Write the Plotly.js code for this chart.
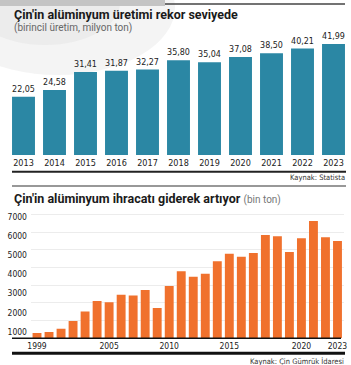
<!DOCTYPE html>
<html>
<head>
<meta charset="utf-8">
<script src="https://cdn.plot.ly/plotly-3.0.1.min.js"></script>
<style>html,body{margin:0;padding:0;background:#fff;}#chart{width:351px;height:365px;}</style>
</head>
<body>
<div id="chart"></div>
<script>
// ---- Data ----
const productionYears = ['2013','2014','2015','2016','2017','2018','2019','2020','2021','2022','2023'];
const productionValues = [22.05, 24.58, 31.41, 31.87, 32.27, 35.80, 35.04, 37.08, 38.50, 40.21, 41.99];

const exportYears = [1999,2000,2001,2002,2003,2004,2005,2006,2007,2008,2009,2010,2011,2012,2013,2014,2015,2016,2017,2018,2019,2020,2021,2022,2023,2024];
const exportValues = [300,360,540,980,1520,2110,2030,2460,2410,2730,1710,2950,3780,3480,3650,4350,4780,4610,4820,5830,5760,4870,5650,6620,5700,5490];
const exportTickVals = [1999,2005,2010,2015,2021,2024];
const exportTickText = ['1999','2005','2010','2015','2020','2023'];
const exportYTicks = [1000,2000,3000,4000,5000,6000,7000];

const title1 = "Çin'in alüminyum üretimi rekor seviyede";
const subtitle1 = "(birincil üretim, milyon ton)";
const title2 = "Çin'in alüminyum ihracatı giderek artıyor";
const subtitle2 = "(bin ton)";
const source1 = "Kaynak: Statista";
const source2 = "Kaynak: Çin Gümrük İdaresi";

// ---- Helpers (pixel -> paper) ----
const W = 351, H = 365;
const px = x => x / W;
const py = y => 1 - y / H;

const COND = '"Liberation Sans Narrow", "DejaVu Sans Condensed", "Roboto Condensed", sans-serif';
const SANS = 'Roboto, "Open Sans", "Liberation Sans", sans-serif';

const traces = [
  {
    type: 'bar', x: productionYears, y: productionValues,
    xaxis: 'x', yaxis: 'y',
    marker: {color: '#2b87a4'},
    texttemplate: '%{y:.2f}', textposition: 'outside',
    textfont: {family: COND, size: 9.5, color: '#222'},
    cliponaxis: false, hoverinfo: 'skip'
  },
  {
    type: 'bar', x: exportYears, y: exportValues,
    xaxis: 'x2', yaxis: 'y2',
    marker: {color: '#f0712d'},
    hoverinfo: 'skip'
  },
  {
    type: 'scatter', mode: 'markers', x: exportYears, y: exportValues,
    xaxis: 'x2', yaxis: 'y3',
    marker: {opacity: 0, size: 1},
    hoverinfo: 'skip', showlegend: false
  }
];

const layout = {
  width: W, height: H,
  margin: {l: 0, r: 0, t: 0, b: 0},
  paper_bgcolor: '#fff', plot_bgcolor: 'rgba(0,0,0,0)',
  showlegend: false,
  separators: ',.',
  bargap: 0.26,
  xaxis: {
    domain: [px(8), px(349)], anchor: 'y', type: 'category',
    showgrid: false, zeroline: false, showline: false, ticks: '',
    tickfont: {family: COND, size: 9, color: '#222'},
    ticklabelstandoff: 1, fixedrange: true
  },
  yaxis: {
    domain: [py(155), py(28)], anchor: 'x', range: [0, 48],
    visible: false, fixedrange: true
  },
  xaxis2: {
    domain: [px(31), px(343.5)], anchor: 'y2',
    range: [1998.5, 2024.5],
    tickvals: exportTickVals, ticktext: exportTickText,
    showgrid: false, zeroline: false, showline: false, ticks: '',
    tickfont: {family: COND, size: 8.5, color: '#222'},
    ticklabelstandoff: 1, fixedrange: true
  },
  yaxis2: {
    domain: [py(338.3), py(209)], anchor: 'x2', range: [0, 7300],
    tickvals: exportYTicks, showticklabels: false,
    showgrid: true, gridcolor: '#ececec', gridwidth: 1,
    zeroline: false, showline: false, ticks: '', fixedrange: true
  },
  yaxis3: {
    overlaying: 'y2', anchor: 'x2', side: 'left',
    range: [655.7, 7401.7], tickvals: exportYTicks,
    showgrid: false, zeroline: false, showline: false, ticks: '',
    tickfont: {family: COND, size: 8.5, color: '#222'},
    ticklabelstandoff: 3, fixedrange: true
  },
  shapes: [
    // foil picture hint (top-left)
    {type: 'circle', xref: 'paper', yref: 'paper', x0: px(-60), x1: px(175), y0: py(75), y1: py(-60),
     fillcolor: '#f1f1f1', line: {width: 0}, opacity: 0.8, layer: 'below'},
    {type: 'circle', xref: 'paper', yref: 'paper', x0: px(-30), x1: px(120), y0: py(45), y1: py(-40),
     fillcolor: '#e6e6e6', line: {width: 0}, opacity: 0.6, layer: 'below'},
    {type: 'rect', xref: 'paper', yref: 'paper', x0: px(0), x1: px(165), y0: py(6), y1: py(0),
     fillcolor: '#c4c4c4', line: {width: 0}, layer: 'below'},
    // top rule
    {type: 'line', xref: 'paper', yref: 'paper', x0: px(165), x1: px(345), y0: py(4), y1: py(4),
     line: {color: '#444', width: 1.5}},
    // top chart bottom rule
    {type: 'line', xref: 'paper', yref: 'paper', x0: px(12), x1: px(346), y0: py(171.7), y1: py(171.7),
     line: {color: '#222', width: 2}},
    // separator
    {type: 'line', xref: 'paper', yref: 'paper', x0: px(12), x1: px(346), y0: py(186), y1: py(186),
     line: {color: '#333', width: 1.2}},
    // bottom chart baseline
    {type: 'line', xref: 'paper', yref: 'paper', x0: px(12), x1: px(341), y0: py(338.3), y1: py(338.3),
     line: {color: '#111', width: 1.5}},
    // bottom thick rule
    {type: 'line', xref: 'paper', yref: 'paper', x0: px(12), x1: px(345), y0: py(353.3), y1: py(353.3),
     line: {color: '#111', width: 3}}
  ],
  annotations: [
    {xref: 'paper', yref: 'paper', x: px(12), y: py(15), xanchor: 'left', yanchor: 'middle',
     text: '<b>' + title1 + '</b>', showarrow: false,
     font: {family: SANS, size: 12.5, color: '#1a1a1a'}},
    {xref: 'paper', yref: 'paper', x: px(12), y: py(28.5), xanchor: 'left', yanchor: 'middle',
     text: subtitle1, showarrow: false,
     font: {family: SANS, size: 10, color: '#666'}},
    {xref: 'paper', yref: 'paper', x: px(347), y: py(177.5), xanchor: 'right', yanchor: 'middle',
     text: source1, showarrow: false,
     font: {family: COND, size: 7.5, color: '#333'}},
    {xref: 'paper', yref: 'paper', x: px(12), y: py(198.5), xanchor: 'left', yanchor: 'middle',
     text: '<b>' + title2 + '</b> <span style="color:#777;font-weight:normal;font-size:10px">' + subtitle2 + '</span>',
     showarrow: false,
     font: {family: SANS, size: 12.5, color: '#1a1a1a'}},
    {xref: 'paper', yref: 'paper', x: px(346), y: py(361), xanchor: 'right', yanchor: 'middle',
     text: source2, showarrow: false,
     font: {family: COND, size: 7.5, color: '#333'}}
  ]
};

Plotly.newPlot('chart', traces, layout, {displayModeBar: false, staticPlot: true});
</script>
</body>
</html>
